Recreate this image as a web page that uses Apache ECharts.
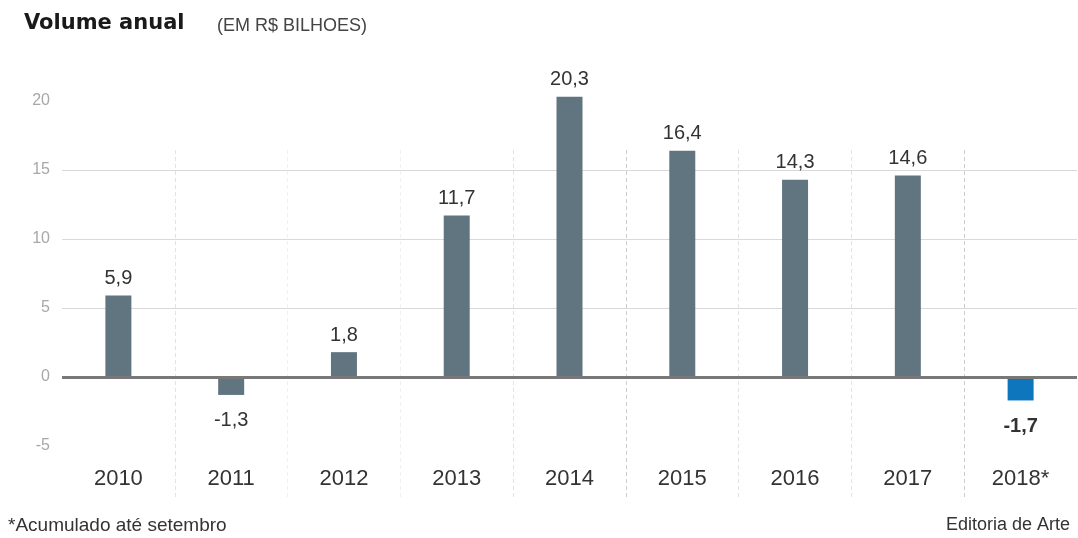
<!DOCTYPE html>
<html>
<head>
<meta charset="utf-8">
<script src="https://cdn.jsdelivr.net/npm/echarts@6/dist/echarts.min.js"></script>
<style>
html,body{margin:0;padding:0;background:#fff;}
#chart{width:1078px;height:538px;}
</style>
</head>
<body>
<div id="chart"></div>
<script>
var categories = ['2010','2011','2012','2013','2014','2015','2016','2017','2018*'];
var values = [5.9, -1.3, 1.8, 11.7, 20.3, 16.4, 14.3, 14.6, -1.7];
var yTicks = [-5, 0, 5, 10, 15, 20];
var gridLevels = [5, 10, 15];
var highlighted = '2018*';

var GRAY = '#617580', BLUE = '#0d76bd';
var SANS = '"Liberation Sans",Arial,sans-serif';

function fmt(v){ return String(v).replace('.', ','); }

var barData = values.map(function(v, i){
  var neg = v < 0;
  return {
    value: v,
    itemStyle: { color: categories[i] === highlighted ? BLUE : GRAY },
    label: {
      show: true,
      position: neg ? 'bottom' : 'top',
      distance: neg ? 16 : 7,
      formatter: fmt(v),
      fontFamily: SANS,
      fontSize: 20,
      color: '#333',
      fontWeight: categories[i] === highlighted ? 'bold' : 'normal'
    }
  };
});

var yMin = yTicks[0], yMax = 25, yStep = 5;
var splitColors = [];
for (var t = yMin; t <= yMax; t += yStep) {
  splitColors.push(gridLevels.indexOf(t) >= 0 ? '#d9d9d9' : 'rgba(0,0,0,0)');
}

var chart = echarts.init(document.getElementById('chart'), null, {renderer: 'canvas'});
chart.setOption({
  animation: false,
  backgroundColor: '#ffffff',
  title: [
    { text: 'Volume anual', left: 19, top: 8,
      textStyle: { fontFamily: '"DejaVu Sans",sans-serif', fontWeight: 'bold', fontSize: 21, color: '#1a1a1a' } },
    { text: '(EM R$ BILHOES)', left: 212, top: 12,
      textStyle: { fontFamily: SANS, fontWeight: 'normal', fontSize: 18, color: '#444' } },
    { text: '*Acumulado até setembro', left: 3, top: 511,
      textStyle: { fontFamily: SANS, fontWeight: 'normal', fontSize: 19, color: '#333' } },
    { text: 'Editoria de Arte', right: 3, top: 511,
      textStyle: { fontFamily: SANS, fontWeight: 'normal', fontSize: 18, color: '#333' } }
  ],
  grid: [
    { left: 62, right: 1, top: 32, bottom: 92, containLabel: false },
    { left: 62, right: 1, top: 150, bottom: 41, containLabel: false }
  ],
  xAxis: [
    { type: 'category', data: categories, gridIndex: 0,
      axisLine: { show: false, onZero: false }, axisTick: { show: false },
      splitLine: { show: false },
      axisLabel: { margin: 22, fontFamily: SANS, fontSize: 22, color: '#333' } },
    { type: 'value', gridIndex: 1, min: 0, max: categories.length, interval: 1,
      axisLine: { show: false }, axisTick: { show: false }, axisLabel: { show: false },
      splitLine: { show: true, showMinLine: false, showMaxLine: false,
        lineStyle: { type: [4, 3], width: 1,
          color: ['#e3e3e3','#f0f0f0','#f0f0f0','#e3e3e3','#cccccc','#e3e3e3','#e3e3e3','#cccccc'] } } }
  ],
  yAxis: [
    { type: 'value', gridIndex: 0, min: yMin, max: yMax, interval: yStep,
      axisLine: { show: false }, axisTick: { show: false },
      axisLabel: { margin: 12, fontFamily: SANS, fontSize: 16, color: '#a8a8a8',
        formatter: function(v){ return yTicks.indexOf(v) >= 0 ? String(v) : ''; } },
      splitLine: { show: true, lineStyle: { color: splitColors, width: 1 } } },
    { type: 'value', gridIndex: 1, min: 0, max: 1, show: false, splitLine: { show: false } }
  ],
  series: [
    { type: 'scatter', xAxisIndex: 1, yAxisIndex: 1, data: [], silent: true },
    { type: 'bar', xAxisIndex: 0, yAxisIndex: 0, data: barData, barWidth: 26, z: 3,
      markLine: { silent: true, symbol: 'none', label: { show: false },
        lineStyle: { color: '#787878', width: 3, type: 'solid' },
        data: [{ yAxis: 0 }] } }
  ]
});
</script>
</body>
</html>
